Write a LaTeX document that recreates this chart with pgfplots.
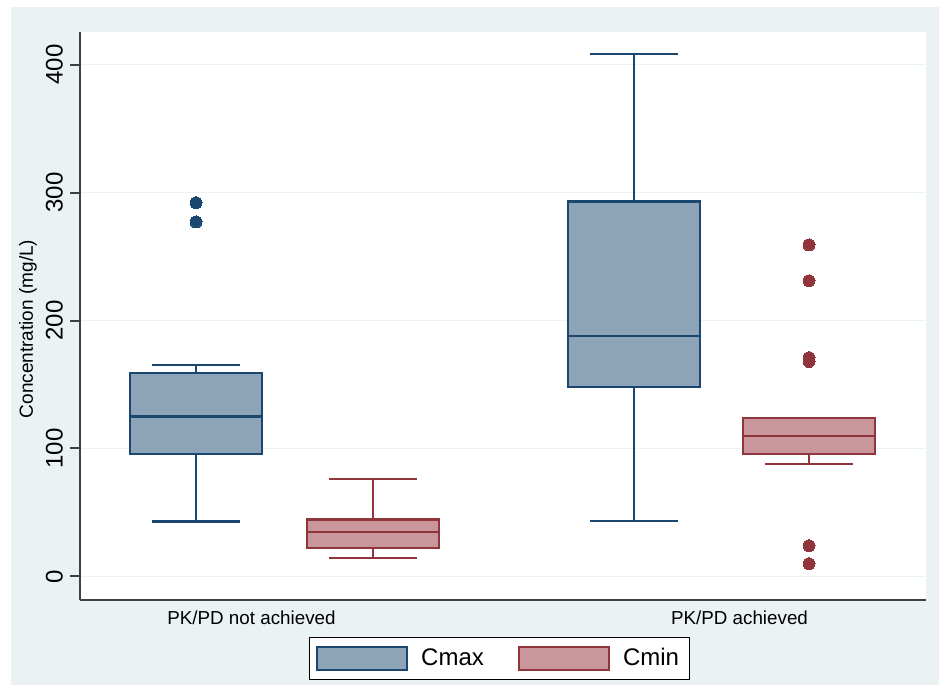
\documentclass[border=0pt]{standalone}
\usepackage{fontspec}
\setmainfont{Liberation Sans}
\usepackage{pgfplots}
\pgfplotsset{compat=1.18}
\usepgfplotslibrary{statistics}
\definecolor{bgc}{HTML}{EAF2F3}
\definecolor{cmaxfill}{HTML}{8DA3B8}
\definecolor{cmaxline}{HTML}{1A476F}
\definecolor{cminfill}{HTML}{C9979B}
\definecolor{cminline}{HTML}{90353B}
\definecolor{axisc}{HTML}{404040}
\pgfplotsset{boxleg/.style={legend image code/.code={\draw[##1] (0pt,-5.75pt) rectangle (45pt,5.75pt);}}}
\begin{document}
\begin{tikzpicture}
\useasboundingbox (0,0) rectangle (469.5pt,342.5pt);
\fill[bgc] (5.5pt,0pt) rectangle (469.5pt,339pt);
\begin{axis}[
  at={(40pt,42.25pt)}, anchor=south west,
  scale only axis, width=423pt, height=284.25pt,
  xmin=80, xmax=926, ymin=-18.75, ymax=425.4,
  axis lines=left,
  axis line style={-, line width=1pt, color=axisc},
  axis background/.style={fill=white},
  ymajorgrids,
  grid style={color=bgc, line width=0.9pt},
  xtick={251.5,739.5},
  xticklabels={PK/PD not achieved, PK/PD achieved},
  x tick style={draw=none},
  ytick={0,100,200,300,400},
  tick align=outside,
  major tick length=5pt,
  y tick style={line width=1pt, color=axisc},
  /pgf/number format/assume math mode=true,
  yticklabel style={rotate=90, anchor=south, font=\fontsize{12}{14}\selectfont},
  xticklabel style={font=\fontsize{9.4}{11}\selectfont, yshift=3.4pt},
  ylabel={Concentration (mg/L)},
  ylabel style={at={(axis description cs:-0.0615,0.4776)}, anchor=center, font=\fontsize{9.5}{11}\selectfont},
  legend columns=2,
  legend style={at={(0.4959,-0.102)}, anchor=center, draw=black, fill=white,
    font=\fontsize{12}{14}\selectfont, line width=0.5pt,
    inner xsep=3pt, inner ysep=3.5pt,
    /tikz/every odd column/.append style={column sep=4.5pt},
    /tikz/every even column/.append style={column sep=15pt}},
  legend cell align=left,
  boxplot/draw direction=y,
  boxplot/every median/.style={line width=1.1pt},
  boxplot/every whisker/.style={line width=1.1pt},
  boxplot/every box/.style={line width=1.1pt},
]
\addlegendimage{boxleg, draw=cmaxline, fill=cmaxfill, line width=1.1pt}
\addlegendentry{Cmax}
\addlegendimage{boxleg, draw=cminline, fill=cminfill, line width=1.1pt}
\addlegendentry{Cmin}

% Group 1 Cmax
\addplot[boxplot prepared={draw position=196, lower whisker=43, lower quartile=96,
  median=125, upper quartile=159, upper whisker=165, box extend=132, whisker extend=88},
  boxplot/draw direction=y,
  draw=cmaxline, fill=cmaxfill, line width=1.1pt,
  mark=*, mark size=3pt, mark options={draw=cmaxline, fill=cmaxline, line width=0pt}]
  coordinates {(0,292) (0,277)};
% Group 1 Cmin
\addplot[boxplot prepared={draw position=373, lower whisker=14.4, lower quartile=22,
  median=35, upper quartile=44.5, upper whisker=76, box extend=132, whisker extend=88},
  boxplot/draw direction=y,
  draw=cminline, fill=cminfill, line width=1.1pt,
  mark=*, mark size=3pt, mark options={draw=cminline, fill=cminline, line width=0pt}]
  coordinates {};
% Group 2 Cmax
\addplot[boxplot prepared={draw position=634, lower whisker=43.5, lower quartile=148,
  median=188, upper quartile=293, upper whisker=408, box extend=132, whisker extend=88},
  boxplot/draw direction=y,
  draw=cmaxline, fill=cmaxfill, line width=1.1pt,
  mark=*, mark size=3pt, mark options={draw=cmaxline, fill=cmaxline, line width=0pt}]
  coordinates {};
% Group 2 Cmin
\addplot[boxplot prepared={draw position=809, lower whisker=88, lower quartile=96,
  median=110, upper quartile=123.6, upper whisker=123.6, box extend=132, whisker extend=88},
  boxplot/draw direction=y,
  draw=cminline, fill=cminfill, line width=1.1pt,
  mark=*, mark size=3pt, mark options={draw=cminline, fill=cminline, line width=0pt}]
  coordinates {(0,259) (0,231) (0,171) (0,168) (0,24) (0,10)};
\end{axis}
\end{tikzpicture}
\end{document}
